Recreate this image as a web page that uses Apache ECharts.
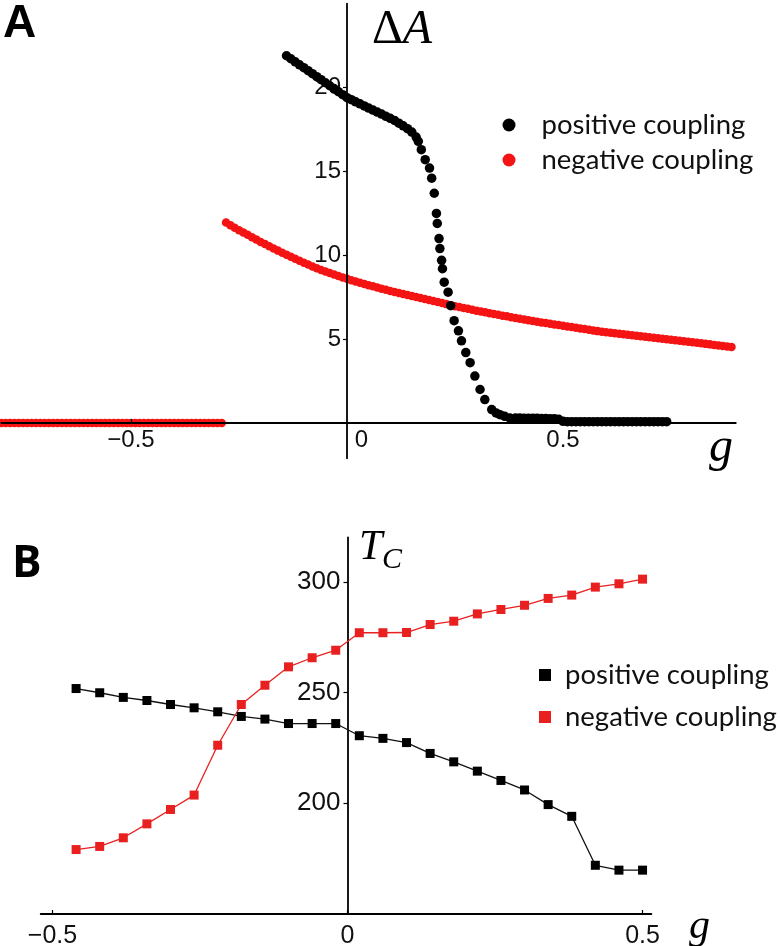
<!DOCTYPE html>
<html>
<head>
<meta charset="utf-8">
<script src="https://cdn.jsdelivr.net/npm/echarts@6/dist/echarts.min.js"></script>
<style>
html,body{margin:0;padding:0;background:#fff;}
#c{width:780px;height:946px;}
</style>
</head>
<body>
<div id="c"></div>
<script>
// ---------- Panel A : ΔA vs g ----------
const posG = [-0.14,-0.13,-0.12,-0.11,-0.10,-0.09,-0.08,-0.07,-0.06,-0.05,-0.04,-0.03,-0.02,-0.01,0.00,
  0.01,0.02,0.03,0.04,0.05,0.06,0.07,0.08,0.09,0.10,0.11,0.12,0.13,0.14,0.15,0.16,0.165,
  0.172,0.181,0.191,0.196,0.202,0.207,0.209,0.213,0.215,0.219,0.221,0.225,0.234,0.240,0.248,0.258,0.265,
  0.275,0.285,0.296,0.308,0.319,0.335,0.345,0.354,0.365,0.377,
  0.39,0.40,0.41,0.42,0.43,0.44,0.45,0.46,0.47,0.48,0.49,0.50,0.51,0.52,0.53,0.54,0.55,0.56,0.57,0.58,
  0.59,0.60,0.61,0.62,0.63,0.64,0.65,0.66,0.67,0.68,0.69,0.70,0.71,0.72,0.73,0.74];
const posVals = [21.90,21.72,21.54,21.36,21.19,21.01,20.83,20.65,20.47,20.29,20.11,19.94,19.76,19.58,19.40,
  19.28,19.15,19.03,18.91,18.78,18.66,18.54,18.42,18.29,18.17,18.04,17.88,17.72,17.55,17.35,17.05,16.80,
  16.3,15.7,15.2,14.6,13.7,12.5,11.9,11.0,10.4,9.7,9.2,8.4,7.8,7.0,6.1,5.5,4.9,
  4.2,3.6,2.8,2.0,1.4,0.8,0.6,0.5,0.4,0.3,
  0.30,0.30,0.29,0.29,0.28,0.28,0.27,0.27,0.26,0.26,0.22,0.10,0.08,0.08,0.08,0.08,0.08,0.08,0.08,0.08,
  0.08,0.08,0.08,0.08,0.08,0.08,0.08,0.08,0.08,0.08,0.08,0.08,0.08,0.08,0.08,0.08];

const negG = [-0.80,-0.79,-0.78,-0.77,-0.76,-0.75,-0.74,-0.73,-0.72,-0.71,-0.70,-0.69,-0.68,-0.67,-0.66,
  -0.65,-0.64,-0.63,-0.62,-0.61,-0.60,-0.59,-0.58,-0.57,-0.56,-0.55,-0.54,-0.53,-0.52,-0.51,-0.50,
  -0.49,-0.48,-0.47,-0.46,-0.45,-0.44,-0.43,-0.42,-0.41,-0.40,-0.39,-0.38,-0.37,-0.36,-0.35,-0.34,
  -0.33,-0.32,-0.31,-0.30,-0.29,
  -0.28,-0.27,-0.26,-0.25,-0.24,-0.23,-0.22,-0.21,-0.20,-0.19,-0.18,-0.17,-0.16,-0.15,-0.14,-0.13,
  -0.12,-0.11,-0.10,-0.09,-0.08,-0.07,-0.06,-0.05,-0.04,-0.03,-0.02,-0.01,0.00,0.01,0.02,0.03,0.04,
  0.05,0.06,0.07,0.08,0.09,0.10,0.11,0.12,0.13,0.14,0.15,0.16,0.17,0.18,0.19,0.20,0.21,0.22,0.23,
  0.24,0.25,0.26,0.27,0.28,0.29,0.30,0.31,0.32,0.33,0.34,0.35,0.36,0.37,0.38,0.39,0.40,0.41,0.42,
  0.43,0.44,0.45,0.46,0.47,0.48,0.49,0.50,0.51,0.52,0.53,0.54,0.55,0.56,0.57,0.58,0.59,0.60,0.61,
  0.62,0.63,0.64,0.65,0.66,0.67,0.68,0.69,0.70,0.71,0.72,0.73,0.74,0.75,0.76,0.77,0.78,0.79,0.80,
  0.81,0.82,0.83,0.84,0.85,0.86,0.87,0.88,0.89];
const negVals = [0,0,0,0,0,0,0,0,0,0,0,0,0,0,0,
  0,0,0,0,0,0,0,0,0,0,0,0,0,0,0,0,
  0,0,0,0,0,0,0,0,0,0,0,0,0,0,0,0,
  0,0,0,0,0,
  11.95,11.80,11.65,11.50,11.36,11.22,11.08,10.94,10.80,10.67,10.54,10.41,10.28,10.15,10.03,9.91,
  9.79,9.67,9.56,9.45,9.34,9.23,9.13,9.03,8.94,8.85,8.76,8.68,8.60,8.52,8.44,8.36,8.29,
  8.22,8.15,8.08,8.01,7.94,7.87,7.81,7.75,7.69,7.63,7.57,7.51,7.45,7.39,7.33,7.27,7.21,7.15,7.09,
  7.03,6.97,6.92,6.86,6.81,6.75,6.70,6.65,6.60,6.55,6.50,6.45,6.40,6.36,6.31,6.26,6.22,6.17,6.13,
  6.08,6.04,6.00,5.96,5.92,5.88,5.84,5.80,5.76,5.72,5.68,5.64,5.60,5.56,5.52,5.48,5.45,5.41,5.38,
  5.35,5.32,5.29,5.26,5.23,5.20,5.17,5.14,5.11,5.08,5.05,5.02,4.99,4.96,4.93,4.90,4.87,4.84,4.81,
  4.78,4.75,4.72,4.69,4.66,4.63,4.60,4.57,4.54];

const aYTicks = [5, 10, 15, 20];
const aXTicks = [-0.5, 0, 0.5];

// ---------- Panel B : Tc vs g ----------
const bG = [-0.46,-0.42,-0.38,-0.34,-0.30,-0.26,-0.22,-0.18,-0.14,-0.10,-0.06,-0.02,
  0.02,0.06,0.10,0.14,0.18,0.22,0.26,0.30,0.34,0.38,0.42,0.46,0.50];
const bPos = [251.8,249.9,247.8,246.4,244.6,243.1,241.3,239.2,238.0,236.0,236.0,236.0,
  230.5,229.3,227.4,222.5,218.7,214.5,210.3,206.0,199.4,194.1,172.0,169.8,169.8];
const bNeg = [179.1,180.5,184.4,190.7,197.2,203.7,226.2,244.6,253.3,261.6,265.7,269.1,
  277.0,277.0,277.1,280.7,282.2,285.5,287.5,289.4,292.5,294.0,297.6,299.1,301.2];
const bYTicks = [200, 250, 300];
const bXTicks = [-0.5, 0, 0.5];

const seriesNames = ['positive coupling', 'negative coupling'];

const zip = (xs, ys) => xs.map((x, i) => [x, ys[i]]);
const fmt = v => (v < 0 ? '\u2212' + Math.abs(v) : String(v));
const numFont = '"Liberation Sans", Arial, sans-serif';
const legFont = 'Lato, "Open Sans", sans-serif';
const RED_A = '#f41414';
const RED_B = '#e82020';

// grid geometry (pixels) – axes crossing at the data origin
const gA = {left: 1.4, top: 3.75, width: 734.4, height: 454.5};
const gB = {left: 40.7, top: 537.5, width: 610.7, height: 376.5};

const chart = echarts.init(document.getElementById('c'), null, {renderer: 'canvas'});
const line = {onZero: false, lineStyle: {color: '#000', width: 1.8}};

chart.setOption({
  animation: false,
  backgroundColor: '#fff',
  grid: [
    Object.assign({outerBoundsMode: 'none', containLabel: false}, gA),
    Object.assign({outerBoundsMode: 'none', containLabel: false}, gB)
  ],
  xAxis: [
    {
      type: 'value', gridIndex: 0, min: -0.8, max: 0.9, z: 3,
      position: 'bottom', offset: -35.25,
      axisLine: line,
      splitLine: {show: false},
      axisTick: {customValues: [-0.5, 0.5], inside: true, length: 4, lineStyle: {color: '#000', width: 1.2}},
      axisLabel: {
        customValues: aXTicks, margin: 5, color: '#111', fontSize: 24, fontFamily: numFont,
        formatter: v => (v === 0 ? '{z|0}' : fmt(v)),
        rich: {z: {padding: [0, 0, 0, 29], fontSize: 24, fontFamily: numFont, color: '#111'}}
      }
    },
    {
      type: 'value', gridIndex: 1, min: -0.52, max: 0.515,
      position: 'bottom',
      axisLine: line,
      splitLine: {show: false},
      axisTick: {customValues: bXTicks, inside: true, length: 4, lineStyle: {color: '#000', width: 1.2}},
      axisLabel: {customValues: bXTicks, margin: 10, color: '#111', fontSize: 25, fontFamily: numFont, formatter: fmt}
    }
  ],
  yAxis: [
    {
      type: 'value', gridIndex: 0, min: -2.1, max: 25, z: 3,
      position: 'left', offset: -345.6,
      axisLine: line,
      splitLine: {show: false},
      axisTick: {customValues: aYTicks, length: 4, lineStyle: {color: '#000', width: 1.2}},
      axisLabel: {customValues: aYTicks, margin: 6, color: '#111', fontSize: 24, fontFamily: numFont}
    },
    {
      type: 'value', gridIndex: 1, min: 150, max: 320,
      position: 'left', offset: -306.8,
      axisLine: line,
      splitLine: {show: false},
      axisTick: {customValues: bYTicks, length: 4, lineStyle: {color: '#000', width: 1.2}},
      axisLabel: {customValues: bYTicks, margin: 7, color: '#111', fontSize: 26, fontFamily: numFont}
    }
  ],
  legend: [
    {
      orient: 'vertical', left: 502.5, top: 111, padding: 0, itemGap: 7,
      itemWidth: 13, itemHeight: 13, selectedMode: false,
      textStyle: {fontFamily: legFont, fontSize: 27.5, lineHeight: 28, color: '#111', padding: [0, 0, 0, 21]},
      data: [
        {name: seriesNames[0], icon: 'circle', itemStyle: {color: '#000'}},
        {name: seriesNames[1], icon: 'circle', itemStyle: {color: RED_A}}
      ]
    },
    {
      orient: 'vertical', left: 539, top: 661, padding: 0, itemGap: 14,
      itemWidth: 12, itemHeight: 12, selectedMode: false,
      textStyle: {fontFamily: legFont, fontSize: 27.5, lineHeight: 28, color: '#111', padding: [0, 0, 0, 9]},
      data: [
        {name: seriesNames[0], icon: 'rect', itemStyle: {color: '#000'}},
        {name: seriesNames[1], icon: 'rect', itemStyle: {color: RED_B}}
      ]
    }
  ],
  series: [
    {
      name: seriesNames[1], type: 'scatter', xAxisIndex: 0, yAxisIndex: 0, z: 2,
      symbol: 'circle', symbolSize: 8.5, itemStyle: {color: RED_A, opacity: 1},
      data: zip(negG, negVals)
    },
    {
      name: seriesNames[0], type: 'scatter', xAxisIndex: 0, yAxisIndex: 0, z: 4,
      symbol: 'circle', symbolSize: 9.5, itemStyle: {color: '#000', opacity: 1},
      data: zip(posG, posVals)
    },
    {
      name: seriesNames[0], type: 'line', xAxisIndex: 1, yAxisIndex: 1,
      symbol: 'rect', symbolSize: 9, showSymbol: true,
      lineStyle: {color: '#111', width: 1.3}, itemStyle: {color: '#000', opacity: 1},
      data: zip(bG, bPos)
    },
    {
      name: seriesNames[1], type: 'line', xAxisIndex: 1, yAxisIndex: 1,
      symbol: 'rect', symbolSize: 9, showSymbol: true,
      lineStyle: {color: RED_B, width: 1.3}, itemStyle: {color: RED_B, opacity: 1},
      data: zip(bG, bNeg)
    }
  ],
  graphic: [
    {type: 'text', left: 3, top: 1, style: {text: 'A', font: 'bold 46px "Liberation Sans", Arial, sans-serif', fill: '#000'}},
    {type: 'text', left: 372, top: 6, style: {
      text: '{d|\u0394}{a|A}',
      rich: {
        d: {font: '48px "Liberation Serif", serif', fill: '#000'},
        a: {font: 'italic 48px "Liberation Serif", serif', fill: '#000'}
      }
    }},
    {type: 'text', left: 709, top: 424, style: {text: 'g', font: 'italic 48px "Liberation Serif", serif', fill: '#000'}},
    {type: 'text', left: 12, top: 542, style: {text: 'B', font: 'bold 44px "Open Sans", sans-serif', fill: '#000'}},
    {type: 'text', left: 359, top: 527, style: {text: 'T', font: 'italic 42px "Liberation Serif", serif', fill: '#000'}},
    {type: 'text', left: 382, top: 545, style: {text: 'C', font: 'italic 30px "Liberation Serif", serif', fill: '#000'}},
    {type: 'text', left: 689, top: 906, style: {text: 'g', font: 'italic 42px "Liberation Serif", serif', fill: '#000'}}
  ]
});
</script>
</body>
</html>
